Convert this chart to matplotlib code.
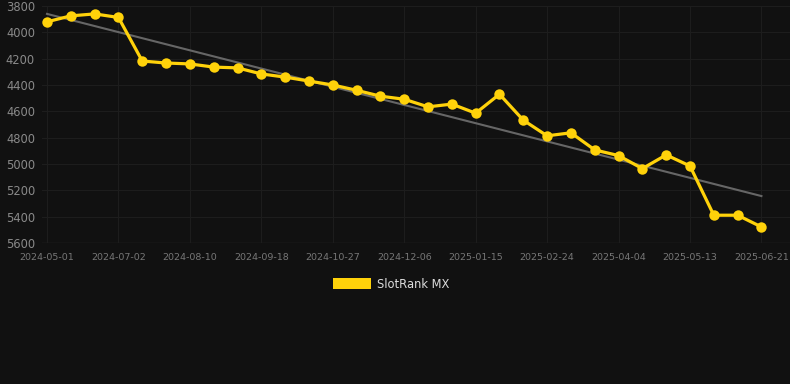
import matplotlib
matplotlib.use("Agg")
import matplotlib.pyplot as plt
from matplotlib.patches import Patch
import numpy as np

# rank values, one point per sample (31 samples, labels every 3rd)
ranks = [3920, 3875, 3860, 3887, 4218, 4233, 4240, 4264, 4270, 4316,
         4340, 4370, 4400, 4440, 4485, 4508, 4566, 4545, 4614, 4470,
         4667, 4786, 4763, 4893, 4936, 5035, 4931, 5015, 5389, 5389,
         5478]
tick_labels = ["2024-05-01", "2024-07-02", "2024-08-10", "2024-09-18",
               "2024-10-27", "2024-12-06", "2025-01-15", "2025-02-24",
               "2025-04-04", "2025-05-13", "2025-06-21"]
y_ticks = [3800, 4000, 4200, 4400, 4600, 4800, 5000, 5200, 5400, 5600]

bg = "#111111"
yellow = "#ffd20a"
grid = "#1d1d1d"

fig = plt.figure(figsize=(7.9, 3.84), dpi=100, facecolor=bg)
ax = fig.add_axes([42 / 790, 1 - 243 / 384, 748 / 790, 237 / 384])
ax.set_facecolor(bg)

x = np.arange(len(ranks))
# trend line (least squares)
k, b = np.polyfit(x, ranks, 1)
ax.plot(x, k * x + b, color="#666666", lw=1.5, zorder=2)
ax.plot(x, ranks, color=yellow, lw=2.3, marker="o", ms=7.5,
        markeredgewidth=0, zorder=3)

ax.set_ylim(5600, 3800)
ax.set_xlim(-0.21, 31.2)
ax.set_yticks(y_ticks)
ax.set_yticklabels([str(v) for v in y_ticks], color="#8a8a8a", fontsize=8.3)
ax.set_xticks(x[::3])
ax.set_xticklabels(tick_labels, color="#777777", fontsize=6.8)
ax.tick_params(length=0, pad=5)
ax.tick_params(axis="x", pad=7)
ax.grid(True, color=grid, lw=0.8)
for s in ax.spines.values():
    s.set_visible(False)
ax.axhline(5600, color="#2a2a2a", lw=1, zorder=1)

fig.legend(handles=[Patch(facecolor=yellow, label="SlotRank MX")],
           loc="center", bbox_to_anchor=(391 / 790, 1 - 284 / 384),
           frameon=False, labelcolor="#dddddd", fontsize=8.3,
           handlelength=3.3, handleheight=1.1, handletextpad=0.5)

fig.savefig("out.png", dpi=100, facecolor=bg)
